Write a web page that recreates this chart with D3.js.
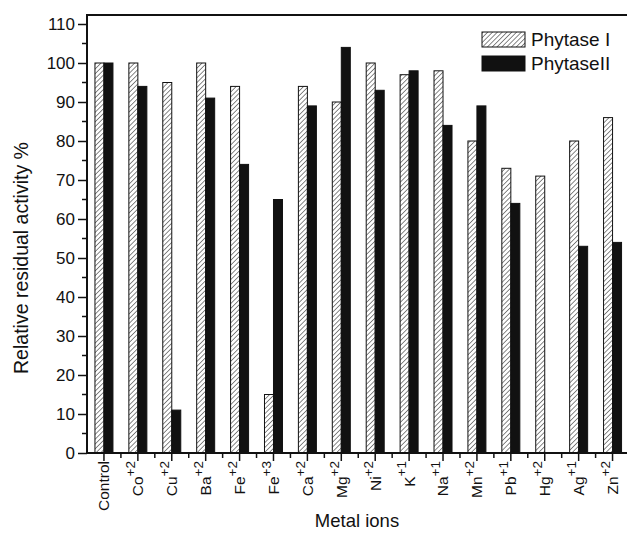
<!DOCTYPE html>
<html>
<head>
<meta charset="utf-8">
<script src="https://cdn.jsdelivr.net/npm/d3@7"></script>
<style>
html,body{margin:0;padding:0;background:#fff;}
svg{display:block;font-family:"Liberation Sans",Arial,sans-serif;}
</style>
</head>
<body>
<svg id="chart" width="627" height="533"></svg>
<script>
const categories = ["Control","Co","Cu","Ba","Fe","Fe","Ca","Mg","Ni","K","Na","Mn","Pb","Hg","Ag","Zn"];
const charges    = ["","+2","+2","+2","+2","+3","+2","+2","+2","+1","+1","+2","+1","+2","+1","+2"];
const phytaseI   = [100,100,95,100,94,15,94,90,100,97,98,80,73,71,80,86];
const phytaseII  = [100,94,11,91,74,65,89,104,93,98,84,89,64,0,53,54];
const seriesNames = ["Phytase I","PhytaseII"];
const yTicks = [0,10,20,30,40,50,60,70,80,90,100,110];

const svg = d3.select("#chart");
const left = 87, right = 629.5, bottom = 453;
const ids = categories.map((c,i)=>i);

const x = d3.scaleBand().domain(ids).range([left, right]).padding(0);
const y = d3.scaleLinear().domain([0,110]).range([bottom, 24]);
const topY = y(112.3);

// hatch pattern
const defs = svg.append("defs");
const pat = defs.append("pattern").attr("id","hatch").attr("patternUnits","userSpaceOnUse")
  .attr("width",3.4).attr("height",3.4).attr("patternTransform","rotate(45)");
pat.append("rect").attr("width",3.4).attr("height",3.4).attr("fill","#fff");
pat.append("line").attr("x1",0).attr("y1",0).attr("x2",0).attr("y2",3.4)
  .attr("stroke","#111").attr("stroke-width",1);

const bw = 9;
const g = svg.append("g");
g.selectAll("rect.p1").data(ids).join("rect").attr("class","p1")
  .attr("x", i => x(i) + x.bandwidth()/2 - bw)
  .attr("y", i => y(phytaseI[i]))
  .attr("width", bw)
  .attr("height", i => y(0) - y(phytaseI[i]))
  .attr("fill","url(#hatch)").attr("stroke","#111").attr("stroke-width",1);
g.selectAll("rect.p2").data(ids).join("rect").attr("class","p2")
  .attr("x", i => x(i) + x.bandwidth()/2)
  .attr("y", i => y(phytaseII[i]))
  .attr("width", bw)
  .attr("height", i => y(0) - y(phytaseII[i]))
  .attr("fill","#111").attr("stroke","#111").attr("stroke-width",1);

// frame
svg.append("path")
  .attr("d", `M${right},${topY}H${left}V${bottom}H${right}V${topY}`)
  .attr("fill","none").attr("stroke","#111").attr("stroke-width",2);

// y axis
const yAxis = d3.axisLeft(y).tickValues(yTicks).tickSize(9).tickPadding(3);
const ya = svg.append("g").attr("transform",`translate(${left},0)`).call(yAxis);
ya.select(".domain").remove();
ya.selectAll("line").attr("stroke","#111").attr("stroke-width",1.5);
ya.selectAll("text").attr("font-size",17).attr("fill","#111").attr("font-family","Liberation Sans, Arial, sans-serif");
const yMinor = d3.range(5,115,10);
svg.append("g").selectAll("line").data(yMinor).join("line")
  .attr("x1",left-5).attr("x2",left).attr("y1",d=>y(d)).attr("y2",d=>y(d))
  .attr("stroke","#111").attr("stroke-width",1.5);

// x axis
const xa = svg.append("g").attr("transform",`translate(0,${bottom})`)
  .call(d3.axisBottom(x).tickSize(8).tickFormat(""));
xa.select(".domain").remove();
xa.selectAll("line").attr("stroke","#111").attr("stroke-width",1.5);
const bounds = ids.slice(1).map(i => x(i));
svg.append("g").selectAll("line").data(bounds).join("line")
  .attr("x1",d=>d).attr("x2",d=>d).attr("y1",bottom).attr("y2",bottom+5)
  .attr("stroke","#111").attr("stroke-width",1.5);

// x labels
const lab = svg.append("g").selectAll("text").data(ids).join("text")
  .attr("transform", i => `translate(${x(i)+x.bandwidth()/2},461) rotate(-90)`)
  .attr("text-anchor","end").attr("dy","0.35em")
  .attr("font-size",15.5).attr("fill","#111");
lab.append("tspan").text(i => categories[i]);
lab.filter(i => charges[i]).append("tspan").attr("dy","-0.6em").attr("font-size",13.5).text(i => charges[i]);

// axis titles
svg.append("text").attr("transform","translate(28,258) rotate(-90)")
  .attr("text-anchor","middle").attr("font-size",19.5).attr("fill","#111")
  .text("Relative residual activity %");
svg.append("text").attr("x",357).attr("y",527)
  .attr("text-anchor","middle").attr("font-size",18.5).attr("fill","#111")
  .text("Metal ions");

// legend
const lg = svg.append("g");
const lrows = [{y:32, fill:"url(#hatch)"},{y:56, fill:"#111"}];
lg.selectAll("rect").data(lrows).join("rect")
  .attr("x",482).attr("y",d=>d.y).attr("width",43).attr("height",15)
  .attr("fill",d=>d.fill).attr("stroke","#111").attr("stroke-width",1);
lg.selectAll("text").data(seriesNames).join("text")
  .attr("x",531).attr("y",(d,i)=>lrows[i].y+14)
  .attr("font-size",19).attr("fill","#111").text(d=>d);
</script>
</body>
</html>
